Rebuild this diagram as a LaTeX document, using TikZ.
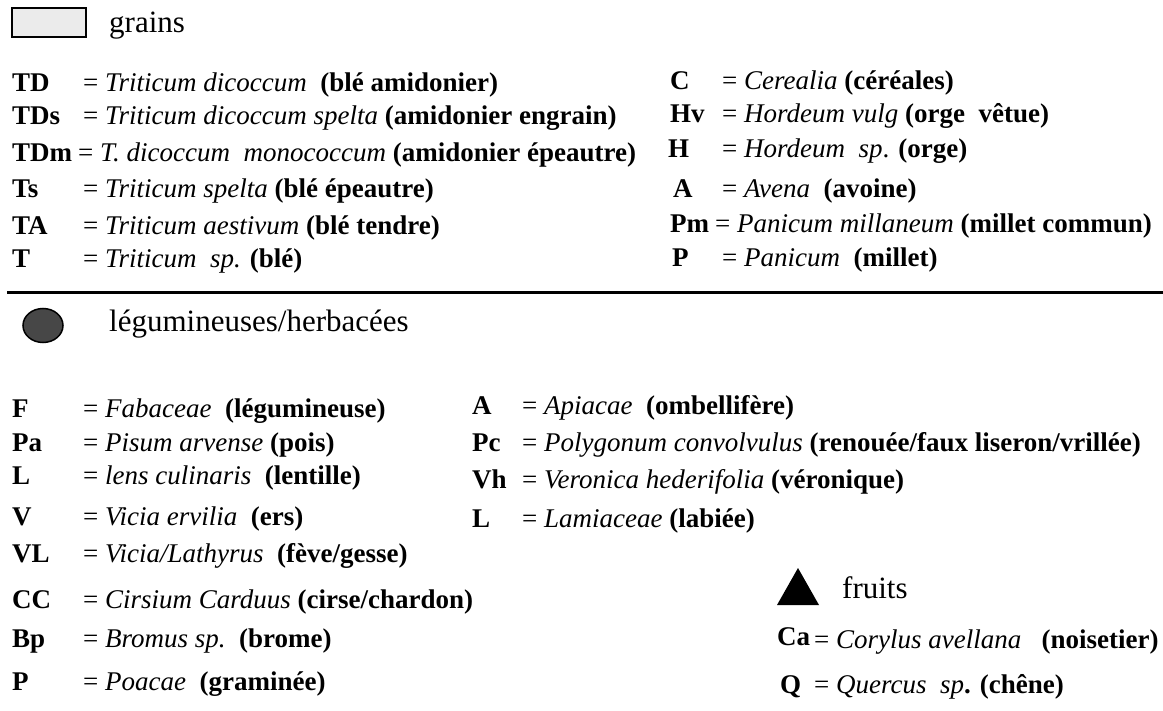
\documentclass[tikz,border=0pt]{standalone}
\usepackage{fontspec}
\setmainfont{Liberation Serif}
\usepackage{tikz}

\begin{document}
\begin{tikzpicture}[x=1pt, y=-1pt,
      key/.style={anchor=base west, inner sep=0pt,
                  font=\fontsize{27}{31}\selectfont\bfseries},
      desc/.style={anchor=base west, inner sep=0pt,
                   font=\fontsize{27}{31}\selectfont},
      hdr/.style={anchor=base west, inner sep=0pt,
                  font=\fontsize{31}{36}\selectfont}
    ]
    \useasboundingbox (0,0) rectangle (1163,711);

    %--- Grains ---
    \draw[line width=2pt, fill=black!8] (12,8) rectangle (86,37);
    \node[hdr] (grains) at (109,33) {grains};
    \foreach \k/\x/\y/\d in {
      TD/83/92/{= \textit{Triticum dicoccum}\ \ \textbf{(blé amidonier)}},
      TDs/83/125/{= \textit{Triticum dicoccum spelta} \textbf{(amidonier engrain)}},
      TDm/78/162/{= \textit{T. dicoccum\ \ monococcum} \textbf{(amidonier épeautre)}},
      Ts/83/198/{= \textit{Triticum spelta} \textbf{(blé épeautre)}},
      TA/83/235/{= \textit{Triticum aestivum} \textbf{(blé tendre)}},
      T/83/268/{= \textit{Triticum\ \ sp.} \textbf{(blé)}}
    } {
      \node[key]  (gl-\k)   at (12,\y) {\k};
      \node[desc] (gl-\k-d) at (\x,\y) {\d};
    }
    \foreach \k/\kx/\x/\y/\d in {
      C/670/722/90/{= \textit{Cerealia} \textbf{(céréales)}},
      Hv/670/722/123/{= \textit{Hordeum vulg} \textbf{(orge\ \ vêtue)}},
      H/668/722/158/{= \textit{Hordeum\ \ sp}. \textbf{(orge)}},
      A/673/722/198/{= \textit{Avena}\ \ \textbf{(avoine)}},
      Pm/670/715/233/{= \textit{Panicum millaneum} \textbf{(millet commun)}},
      P/672/722/267/{= \textit{Panicum}\ \ \textbf{(millet)}}
    } {
      \node[key]  (gr-\k)   at (\kx,\y) {\k};
      \node[desc] (gr-\k-d) at (\x,\y) {\d};
    }

    % separation rule
    \draw[line width=3pt] (7,293) -- (1163,293);

    %--- Legumineuses / herbacees ---
    \draw[line width=1.5pt, fill=black!72] (43,325.5) ellipse [x radius=20, y radius=17];
    \node[hdr] (herb) at (109,332) {légumineuses/herbacées};
    \foreach \k/\y/\d in {
      F/418/{= \textit{Fabaceae}\ \ \textbf{(légumineuse)}},
      Pa/452/{= \textit{Pisum arvense} \textbf{(pois)}},
      L/485/{= \textit{lens culinaris}\ \ \textbf{(lentille)}},
      V/525/{= \textit{Vicia ervilia}\ \ \textbf{(ers)}},
      VL/562/{= \textit{Vicia/Lathyrus}\ \ \textbf{(fève/gesse)}},
      CC/608/{= \textit{Cirsium Carduus} \textbf{(cirse/chardon)}},
      Bp/647/{= \textit{Bromus sp.}\ \ \textbf{(brome)}},
      P/690/{= \textit{Poacae}\ \ \textbf{(graminée)}}
    } {
      \node[key]  (hl-\k)   at (12,\y) {\k};
      \node[desc] (hl-\k-d) at (83,\y) {\d};
    }
    \foreach \k/\y/\d in {
      A/415/{= \textit{Apiacae}\ \ \textbf{(ombellifère)}},
      Pc/452/{= \textit{Polygonum convolvulus} \textbf{(renouée/faux liseron/vrillée)}},
      Vh/488/{= \textit{Veronica hederifolia} \textbf{(véronique)}},
      L/527/{= \textit{Lamiaceae} \textbf{(labiée)}}
    } {
      \node[key]  (hm-\k)   at (472,\y) {\k};
      \node[desc] (hm-\k-d) at (522,\y) {\d};
    }

    %--- Fruits ---
    \fill (777,605) -- (798,568) -- (819,605) -- cycle;
    \node[hdr] (fruits) at (842,598) {fruits};
    \node[key]  (fr-Ca)   at (777,645) {Ca};
    \node[desc] (fr-Ca-d) at (814,648)
          {= \textit{Corylus avellana}\ \ \ \textbf{(noisetier)}};
    \node[key]  (fr-Q)    at (780,693) {Q};
    \node[desc] (fr-Q-d)  at (814,693)
          {= \textit{Quercus\ \ sp}\textbf{.} \textbf{(chêne)}};
  \end{tikzpicture}
\end{document}
